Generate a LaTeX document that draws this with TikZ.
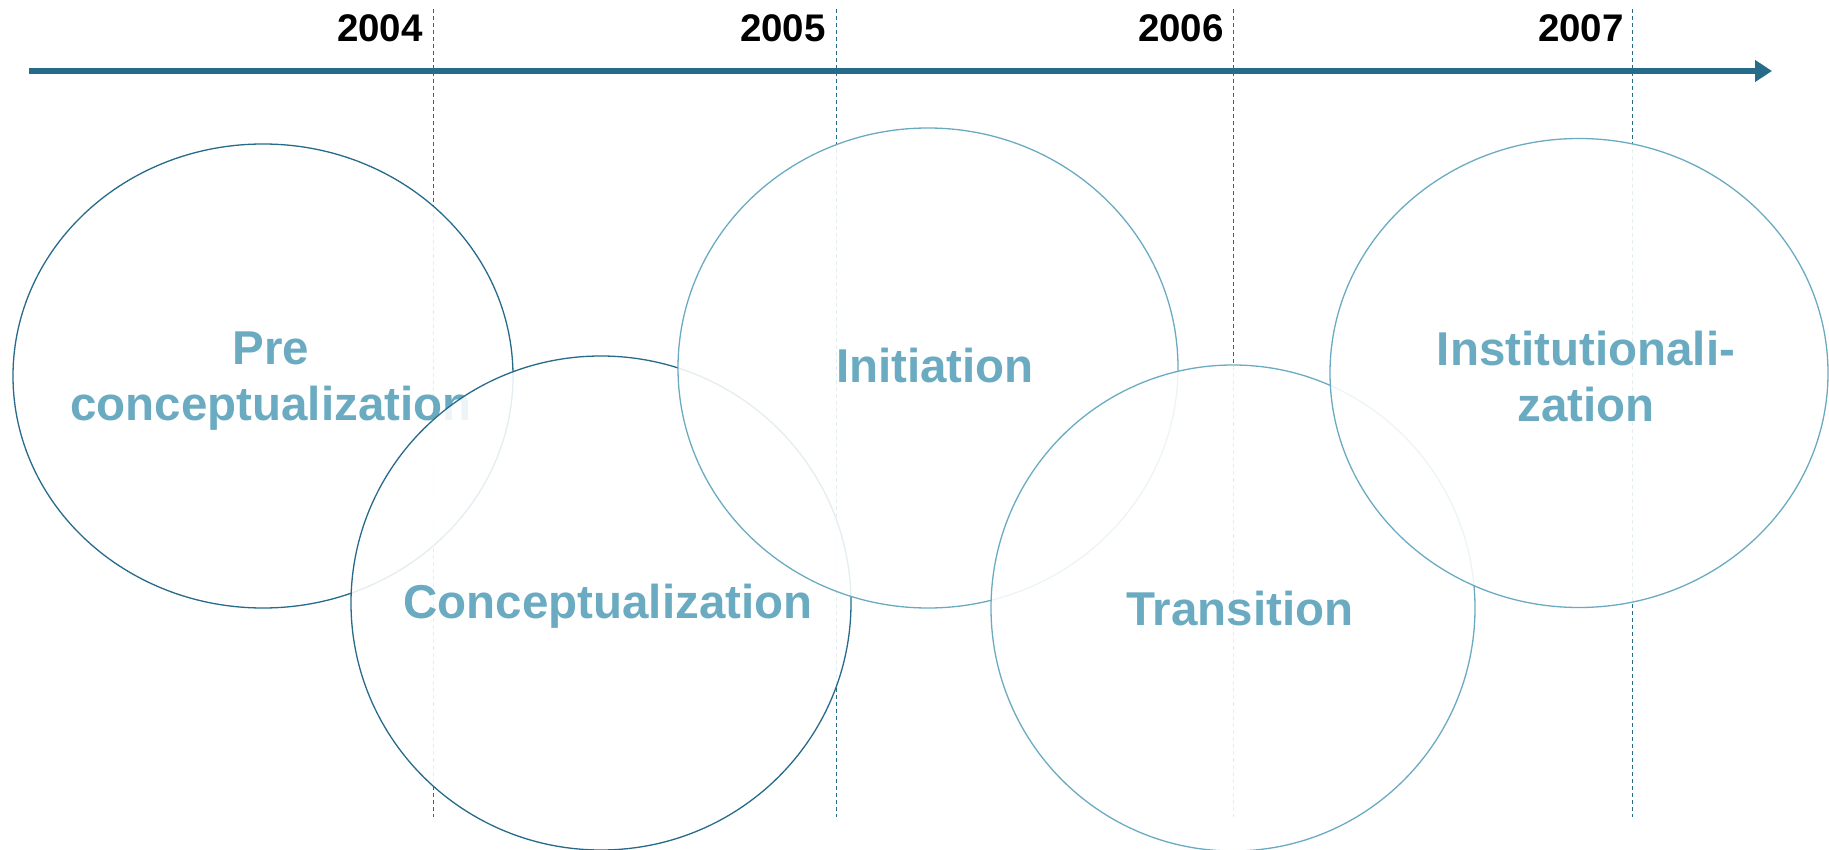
\documentclass[tikz,border=0pt]{standalone}
\usepackage{fontspec}
\setmainfont{Liberation Sans}
\usetikzlibrary{shapes.geometric,arrows.meta}
\definecolor{dk}{RGB}{38,107,138}
\definecolor{lt}{RGB}{107,171,193}
\begin{document}
\begin{tikzpicture}[x=1pt,y=-1pt,
  phase/.style={ellipse, fill=white, fill opacity=0.88, draw opacity=1, inner sep=0pt, line width=1.3pt},
  lbl/.style={text=lt, font=\bfseries\fontsize{47.5}{56}\selectfont, align=center, anchor=base, inner sep=0pt},
  yr/.style={font=\bfseries\fontsize{38.5}{44}\selectfont, anchor=base east, inner sep=0pt},
  guide/.style={draw=dk, line width=1pt, dash pattern=on 4pt off 3pt}]
\useasboundingbox[fill=white] (0,0) rectangle (1829,850);
% guide lines
\coordinate (g1t) at (433,9);  \coordinate (g1b) at (433,817);
\coordinate (g2t) at (836,9);  \coordinate (g2b) at (836,817);
\coordinate (g3t) at (1233,9); \coordinate (g3b) at (1233,817);
\coordinate (g4t) at (1632,9); \coordinate (g4b) at (1632,817);
\draw[guide] (g1t) -- (g1b);
\draw[guide] (g2t) -- (g2b);
\draw[guide] (g3t) -- (g3b);
\draw[guide] (g4t) -- (g4b);
% timeline
\coordinate (ts) at (29,71); \coordinate (te) at (1772,71);
\draw[dk, line width=5.5pt, -{Triangle[length=17pt,width=21pt]}] (ts) -- (te);
% years
\node[yr] (y2004) at (423,42) {2004};
\node[yr] (y2005) at (826,42) {2005};
\node[yr] (y2006) at (1224,42) {2006};
\node[yr] (y2007) at (1624,42) {2007};
% phases
\node[phase, draw=dk, minimum width=500pt, minimum height=464pt] (c1) at (263,376) {};
\node[lbl] (t1) at (271,420) {Pre\\conceptualization};
\node[phase, draw=dk, minimum width=500pt, minimum height=494pt] (c2) at (601,603) {};
\node[lbl] (t2) at (608,618) {Conceptualization};
\node[phase, draw=lt, minimum width=500pt, minimum height=480pt] (c3) at (928,368) {};
\node[lbl] (t3) at (935,382) {Initiation};
\node[phase, draw=lt, minimum width=484pt, minimum height=486pt] (c4) at (1233,608) {};
\node[lbl] (t4) at (1240,625) {Transition};
\node[phase, draw=lt, minimum width=498pt, minimum height=469pt] (c5) at (1579,373) {};
\node[lbl] (t5) at (1586,421) {Institutionali-\\zation};
\end{tikzpicture}
\end{document}
